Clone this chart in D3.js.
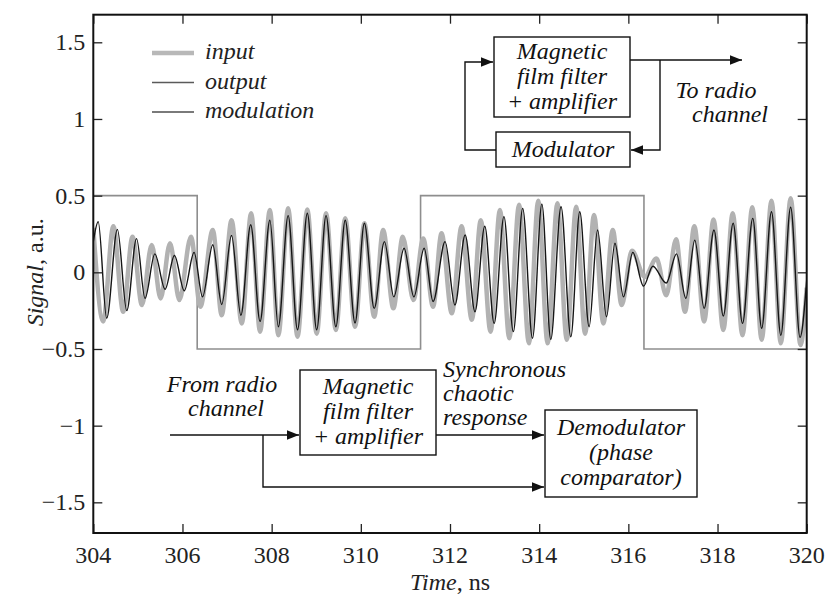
<!DOCTYPE html>
<html><head><meta charset="utf-8">
<script src="https://cdn.jsdelivr.net/npm/d3@7"></script>
<style>
body{margin:0;background:#fff;}
svg text{font-family:"Liberation Serif","Tinos","Nimbus Roman","FreeSerif","Times New Roman","DejaVu Serif",serif;}
</style>
</head><body>
<svg id="chart" width="830" height="598"></svg>
<script>
// ---- data ----
const xTicks = [304, 306, 308, 310, 312, 314, 316, 318, 320];
const yTicks = [1.5, 1, 0.5, 0, -0.5, -1, -1.5];
const yTickLabels = ["1.5", "1", "0.5", "0", "\u22120.5", "\u22121", "\u22121.5"];

// modulation: square wave (time, level)
const modTimes  = [304, 306.33, 306.33, 311.34, 311.34, 316.35, 316.35, 320];
const modValues = [0.5, 0.5, -0.5, -0.5, 0.5, 0.5, -0.5, -0.5];

// output signal: successive extrema (time ns, value)
const outTimes = [304.00,304.11,304.30,304.54,304.75,304.97,305.16,305.38,305.61,305.82,306.04,306.26,306.45,306.68,306.88,307.10,307.31,307.53,307.74,307.96,308.15,308.37,308.58,308.80,309.01,309.22,309.44,309.65,309.87,310.08,310.30,310.53,310.74,310.97,311.19,311.42,311.62,311.89,312.11,312.34,312.56,312.78,312.99,313.21,313.42,313.63,313.85,314.06,314.26,314.49,314.71,314.91,315.12,315.31,315.51,315.70,315.89,316.10,316.34,316.55,316.85,317.08,317.29,317.49,317.70,317.92,318.13,318.35,318.56,318.79,318.99,319.21,319.42,319.64,319.85,320.00];
const outValues = [0.20,0.33,-0.30,0.28,-0.25,0.22,-0.17,0.12,-0.11,0.11,-0.12,0.13,-0.16,0.18,-0.21,0.24,-0.28,0.31,-0.32,0.34,-0.355,0.37,-0.375,0.385,-0.375,0.37,-0.355,0.34,-0.33,0.32,-0.235,0.20,-0.16,0.157,-0.16,0.157,-0.19,0.20,-0.213,0.243,-0.257,0.30,-0.333,0.363,-0.387,0.417,-0.43,0.445,-0.437,0.428,-0.42,0.395,-0.355,0.276,-0.29,0.19,-0.16,0.13,-0.09,0.04,-0.07,0.12,-0.17,0.21,-0.235,0.276,-0.285,0.32,-0.333,0.352,-0.365,0.395,-0.41,0.424,-0.424,-0.05];

// input signal: successive extrema (time ns, value)
const inTimes = [304.00,304.22,304.45,304.67,304.88,305.09,305.31,305.51,305.72,305.93,306.19,306.40,306.68,306.88,307.10,307.33,307.54,307.74,307.96,308.15,308.37,308.58,308.80,309.01,309.22,309.44,309.65,309.87,310.08,310.30,310.50,310.73,310.94,311.18,311.40,311.62,311.81,312.04,312.26,312.49,312.69,312.91,313.12,313.33,313.55,313.77,313.98,314.19,314.41,314.62,314.83,315.03,315.23,315.44,315.65,315.85,316.08,316.37,316.63,316.85,317.07,317.27,317.48,317.70,317.91,318.13,318.34,318.56,318.78,318.99,319.21,319.42,319.64,319.86,320.00];
const inValues = [0.29,-0.32,0.30,-0.257,0.232,-0.213,0.178,-0.17,0.19,-0.18,0.232,-0.224,0.276,-0.28,0.34,-0.333,0.385,-0.387,0.406,-0.41,0.417,-0.42,0.41,-0.40,0.385,-0.376,0.352,-0.355,0.32,-0.29,0.276,-0.235,0.232,-0.18,0.22,-0.224,0.254,-0.267,0.30,-0.31,0.34,-0.387,0.406,-0.43,0.44,-0.463,0.467,-0.463,0.45,-0.44,0.428,-0.40,0.374,-0.333,0.276,-0.213,0.14,-0.03,0.09,-0.15,0.215,-0.257,0.30,-0.32,0.345,-0.376,0.385,-0.41,0.424,-0.44,0.467,-0.463,0.483,-0.474,-0.10];

const legendLabels = ["input", "output", "modulation"];

// ---- layout ----
const svg = d3.select("#chart");
const L = 93.3, R = 806.7, T = 14.7, B = 533;
const x = d3.scaleLinear().domain([304, 320]).range([L, R]);
const y = d3.scaleLinear().domain([-1.7, 1.68]).range([B, T]);

const zip = (ts, vs) => ts.map((t, i) => [t, vs[i]]);
const clipId = "plotclip";
svg.append("clipPath").attr("id", clipId).append("rect")
  .attr("x", L).attr("y", T).attr("width", R - L).attr("height", B - T);

const g = svg.append("g").attr("clip-path", `url(#${clipId})`);
const smooth = d3.line().x(d => x(d[0])).y(d => y(d[1])).curve(d3.curveMonotoneX);
const straight = d3.line().x(d => x(d[0])).y(d => y(d[1]));

g.append("path").attr("d", straight(zip(modTimes, modValues)))
  .attr("fill", "none").attr("stroke", "#8e8e8e").attr("stroke-width", 1.6);
g.append("path").attr("d", smooth(zip(inTimes, inValues)))
  .attr("fill", "none").attr("stroke", "#b2b2b2").attr("stroke-width", 4.5);
g.append("path").attr("d", smooth(zip(outTimes, outValues)))
  .attr("fill", "none").attr("stroke", "#151515").attr("stroke-width", 1.4);

// axes (inward ticks)
const tickLen = 9;
const axL = svg.append("g").attr("transform", `translate(${L},0)`)
  .call(d3.axisRight(y).tickValues(yTicks).tickSize(tickLen).tickFormat(""));
const axR = svg.append("g").attr("transform", `translate(${R},0)`)
  .call(d3.axisLeft(y).tickValues(yTicks).tickSize(tickLen).tickFormat(""));
const axB = svg.append("g").attr("transform", `translate(0,${B})`)
  .call(d3.axisTop(x).tickValues(xTicks).tickSize(tickLen).tickFormat(""));
const axT = svg.append("g").attr("transform", `translate(0,${T})`)
  .call(d3.axisBottom(x).tickValues(xTicks).tickSize(tickLen).tickFormat(""));
[axL, axR, axB, axT].forEach(a => {
  a.select(".domain").remove();
  a.selectAll("line").attr("stroke", "#222").attr("stroke-width", 1.3);
});

svg.append("rect").attr("x", L).attr("y", T).attr("width", R - L).attr("height", B - T)
  .attr("fill", "none").attr("stroke", "#111").attr("stroke-width", 2);

// tick labels
svg.append("g").selectAll("text").data(yTicks).join("text")
  .attr("x", L - 8).attr("y", d => y(d) + 8)
  .attr("text-anchor", "end").attr("font-size", 24).attr("fill", "#222")
  .text((d, i) => yTickLabels[i]);
svg.append("g").selectAll("text").data(xTicks).join("text")
  .attr("x", d => x(d)).attr("y", 563)
  .attr("text-anchor", "middle").attr("font-size", 24).attr("fill", "#222")
  .text(d => d);

// axis titles
const xt = svg.append("text").attr("x", (L + R) / 2).attr("y", 590)
  .attr("text-anchor", "middle").attr("font-size", 24).attr("fill", "#222");
xt.append("tspan").attr("font-style", "italic").text("Time");
xt.append("tspan").text(", ns");
const yt = svg.append("text").attr("transform", `translate(43,${y(0)}) rotate(-90)`)
  .attr("text-anchor", "middle").attr("font-size", 24).attr("fill", "#222");
yt.append("tspan").attr("font-style", "italic").text("Signal");
yt.append("tspan").text(", a.u.");

// legend
const legStyles = [
  {stroke: "#b8b8b8", w: 4.5},
  {stroke: "#5a5a5a", w: 1.6},
  {stroke: "#7a7a7a", w: 1.8}
];
const lg = svg.append("g");
legendLabels.forEach((lab, i) => {
  const yy = 53 + i * 29.5;
  lg.append("line").attr("x1", 152).attr("x2", 194).attr("y1", yy).attr("y2", yy)
    .attr("stroke", legStyles[i].stroke).attr("stroke-width", legStyles[i].w);
  lg.append("text").attr("x", 205).attr("y", yy + 6).attr("font-size", 24)
    .attr("font-style", "italic").attr("fill", "#222").text(lab);
});

// ---- block diagrams ----
const defs = svg.append("defs");
defs.append("marker").attr("id", "arr").attr("viewBox", "0 0 10 10")
  .attr("refX", 10).attr("refY", 5).attr("markerWidth", 12).attr("markerHeight", 12)
  .attr("markerUnits", "userSpaceOnUse").attr("orient", "auto")
  .append("path").attr("d", "M0,1 L10,5 L0,9 Z").attr("fill", "#111");

const dg = svg.append("g").attr("font-size", 24).attr("fill", "#111");
function box(x0, y0, w, h, lines, dy) {
  dg.append("rect").attr("x", x0).attr("y", y0).attr("width", w).attr("height", h)
    .attr("fill", "#fff").attr("stroke", "#111").attr("stroke-width", 1.4);
  lines.forEach((t, i) => {
    dg.append("text").attr("x", x0 + w / 2).attr("y", y0 + dy + i * 25)
      .attr("text-anchor", "middle").attr("font-style", "italic").text(t);
  });
}
function path(pts, arrow) {
  const p = dg.append("path").attr("d", d3.line()(pts)).attr("fill", "none")
    .attr("stroke", "#111").attr("stroke-width", 1.4);
  if (arrow) p.attr("marker-end", "url(#arr)");
}
function label(x0, y0, lines, anchor, offs) {
  lines.forEach((t, i) => {
    dg.append("text").attr("x", x0 + (offs ? offs[i] : 0)).attr("y", y0 + i * 24)
      .attr("text-anchor", anchor).attr("font-style", "italic").text(t);
  });
}

// upper diagram
box(494, 37, 136, 80, ["Magnetic", "film filter", "+ amplifier"], 22);
box(496, 132, 134, 35, ["Modulator"], 25);
path([[630, 60], [742, 60]], true);
path([[660, 60], [660, 150], [631, 150]], true);
path([[496, 150], [465, 150], [465, 62], [493, 62]], true);
label(722, 98, ["To radio", "channel"], "middle", [-6, 8]);

// lower diagram
box(300, 370, 136, 85, ["Magnetic", "film filter", "+ amplifier"], 24);
box(545, 410, 152, 87, ["Demodulator", "(phase", "comparator)"], 25);
label(222, 392, ["From radio", "channel"], "middle", [0, 4]);
path([[170, 435], [299, 435]], true);
path([[436, 435], [544, 435]], true);
path([[263, 435], [263, 487], [544, 487]], true);
label(443, 377, ["Synchronous", "chaotic", "response"], "start");
</script>
</body></html>
